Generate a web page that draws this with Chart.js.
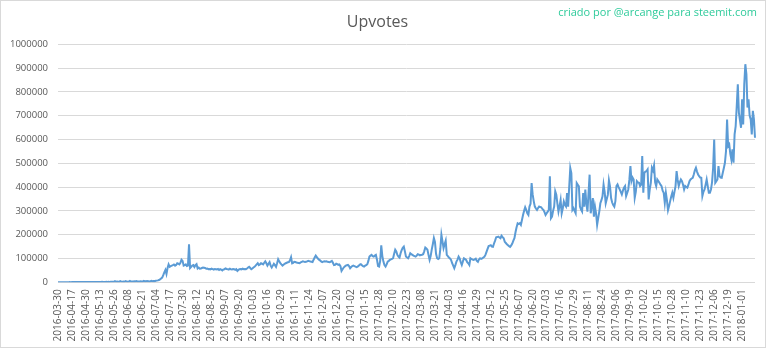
<!DOCTYPE html>
<html>
<head>
<meta charset="utf-8">
<title>Upvotes</title>
<script src="https://cdn.jsdelivr.net/npm/chart.js"></script>
<style>
  body { margin: 0; background: #fff; }
  #wrap { position: relative; width: 768px; height: 350px; }
  #frame { position: absolute; left: 0; top: 0; width: 766px; height: 348px; border: 1px solid #d9d9d9; box-sizing: border-box; pointer-events: none; }
</style>
</head>
<body>
<div id="wrap">
  <canvas id="chart" width="768" height="350"></canvas>
  <div id="frame"></div>
</div>
<script>
// first days of the series are not consecutive, after 2016-04-17 one point per day
const firstDates = ['2016-03-30','2016-04-01','2016-04-03','2016-04-04','2016-04-06','2016-04-07','2016-04-09',
  '2016-04-10','2016-04-11','2016-04-12','2016-04-13','2016-04-15','2016-04-16'];
const dailyFrom = '2016-04-17';
const dailyTo = '2018-01-13';
const labelEvery = 13;

// upvotes per day, in thousands
const upvotes2016a = [
  0.2,0.3,0.3,0.4,0.3,0.5,0.4,0.6,0.5,0.7,
  0.6,0.8,0.7,0.9,0.8,1.0,0.9,1.1,0.8,0.9,
  1.2,1.0,1.1,0.9,1.3,1.2,1.0,1.4,1.2,
  1.5,1.3,1.2,1.4,1.6,1.3,1.5,1.4,1.7,1.5,
  1.6,1.4,1.8,1.6,1.5,1.7,1.9,1.6,1.8,1.7,
  2.0,1.8,1.9,2.2,4.5,2.5,3.0,2.2,2.6,5.0,
  2.8,2.4,3.2,2.7,4.8,3.0,2.6,3.4,5.5,3.1,
  2.9,3.6,4.2,3.3,5.2,3.5,3.2,3.8,4.6,3.6,
  3.4,5.8,3.9,4.1,5.0,4.2,3.9,4.5,6.0,
  4.8,5.5,5.0,6.5,7.0,8.0,9.5,12,16,20,
  30,42,52,35,60,75,65,68,70,72,
  75,70,73,80,78,75,82,95,90,70,
  72,75,68,70,160,60,65,70,72,64
];
const upvotes2016b = [
  72,76,58,62,57,58,60,62,61,
  60,57,58,55,56,54,57,55,53,56,
  55,54,56,52,55,53,50,54,55,58,
  56,55,53,57,55,54,56,55,52,55,
  48,52,55,56,54,57,55,56,55,58,
  62,65,60,55,58,62,65,70,75,80,
  72,75,80,78,75,82,88,80,70,
  78,85,70,62,70,78,72,65,80,97,
  88,80,75,70,74,78,80,82,84,85,
  92,105,80,82,86,85,83,82,81,80,
  84,86,88,87,85,86,88,90,89,
  87,86,85,95,104,112,106,100,95,
  92,88,85,87,88,87,88,86,85,84,
  87,90,82,72,73,78,76,73,75,68
];
const upvotes2017a = [
  48,55,62,66,70,72,73,68,59,64,
  68,70,68,66,64,66,70,74,76,72,
  68,66,70,72,76,90,108,112,115,110,
  108,112,115,95,68,66,90,155,110,
  87,72,66,75,87,90,94,96,98,101,
  120,137,130,115,108,104,122,135,145,150,
  130,108,104,101,110,122,118,115,112,110,
  108,112,118,116,113,115,116,118,130,146,
  142,137,115,94,110,137,160,186,170,
  120,101,98,101,140,200,172,144,160,175,
  115,110,104,100,94,80,70,59,72,87,
  95,108,100,85,73,88,101,98,94,85,
  80,73,101,98,95,94,96,99,90,86
];
const upvotes2017b = [
  96,101,98,100,104,107,115,128,140,152,
  154,156,150,149,163,175,189,190,192,
  188,185,196,190,185,170,165,160,156,
  152,149,155,163,175,185,210,231,248,245,
  248,241,262,283,300,315,304,290,283,318,
  330,417,368,340,318,310,304,312,318,316,
  315,308,304,295,283,290,297,304,445,269,
  276,300,318,382,368,330,297,320,346,
  290,310,339,325,318,375,318,400,480,459,
  304,311,300,290,417,410,403,318,305,297,
  375,318,389,330,297,375,452,290,320,354,
  276,318,290,241,270,297,332,345,361,410,
  380,332,350,368,428,403,354,335,325
];
const upvotes2017c = [
  318,341,404,411,400,390,380,369,385,397,
  404,362,375,390,430,488,425,440,432,355,
  380,425,420,418,404,410,530,376,460,465,
  467,474,348,390,418,481,470,491,420,404,
  432,425,418,410,404,385,376,334,376,345,
  303,320,341,360,376,355,380,404,467,
  430,404,420,432,425,410,390,404,400,397,
  410,425,432,436,439,453,470,481,465,453,
  446,440,439,362,380,390,410,432,404,376,
  376,390,420,480,600,418,425,432,488,446,
  440,439,460,480,502,551,684,572,579,
  540,516,558,502,621,656,740,832,712,680,
  649,769,663,832,916,874,734,769,700,684,
  621,720,684,607
];

const yMax = 1000000;
const yStep = 100000;

const labels = firstDates.slice();
for (let t = Date.parse(dailyFrom); t <= Date.parse(dailyTo); t += 86400000) {
  labels.push(new Date(t).toISOString().slice(0, 10));
}
const values = [].concat(upvotes2016a, upvotes2016b, upvotes2017a, upvotes2017b, upvotes2017c).map(v => v * 1000);

const grey = '#595959';

// attribution in the top right corner
const credit = {
  id: 'credit',
  afterDraw(chart) {
    const ctx = chart.ctx;
    ctx.save();
    ctx.font = '11px "Open Sans"';
    ctx.fillStyle = '#2fcb9b';
    ctx.textAlign = 'right';
    ctx.textBaseline = 'middle';
    ctx.fillText('criado por @arcange para steemit.com', 757, 13);
    ctx.restore();
  }
};

new Chart(document.getElementById('chart'), {
  type: 'line',
  data: {
    labels: labels,
    datasets: [{
      label: 'Upvotes',
      data: values,
      borderColor: '#5b9bd5',
      borderWidth: 2,
      pointRadius: 0,
      tension: 0,
      fill: false
    }]
  },
  options: {
    responsive: false,
    animation: false,
    layout: { padding: { left: 0, right: 13, top: 0, bottom: 0 } },
    plugins: {
      legend: { display: false },
      tooltip: { enabled: false },
      title: {
        display: true,
        text: 'Upvotes',
        color: grey,
        font: { family: '"Open Sans"', size: 16, weight: 'normal' },
        padding: { top: 13, bottom: 12 }
      }
    },
    scales: {
      x: {
        offset: false,
        grid: { display: false, drawTicks: false },
        border: { display: false },
        afterFit: s => { s.height = 67.7; },
        ticks: {
          autoSkip: false,
          minRotation: 90,
          maxRotation: 90,
          padding: 7,
          color: grey,
          font: { family: '"Open Sans"', size: 10 },
          callback: (v, i) => (i % labelEvery === 0 ? labels[i] : null)
        }
      },
      y: {
        min: 0,
        max: yMax,
        afterFit: s => { s.width = 58; },
        grid: { color: '#d9d9d9', lineWidth: 1, drawTicks: false },
        border: { display: false },
        ticks: {
          stepSize: yStep,
          padding: 10,
          color: grey,
          font: { family: '"Open Sans"', size: 9.5 },
          callback: v => String(v)
        }
      }
    }
  },
  plugins: [credit]
});
</script>
</body>
</html>
